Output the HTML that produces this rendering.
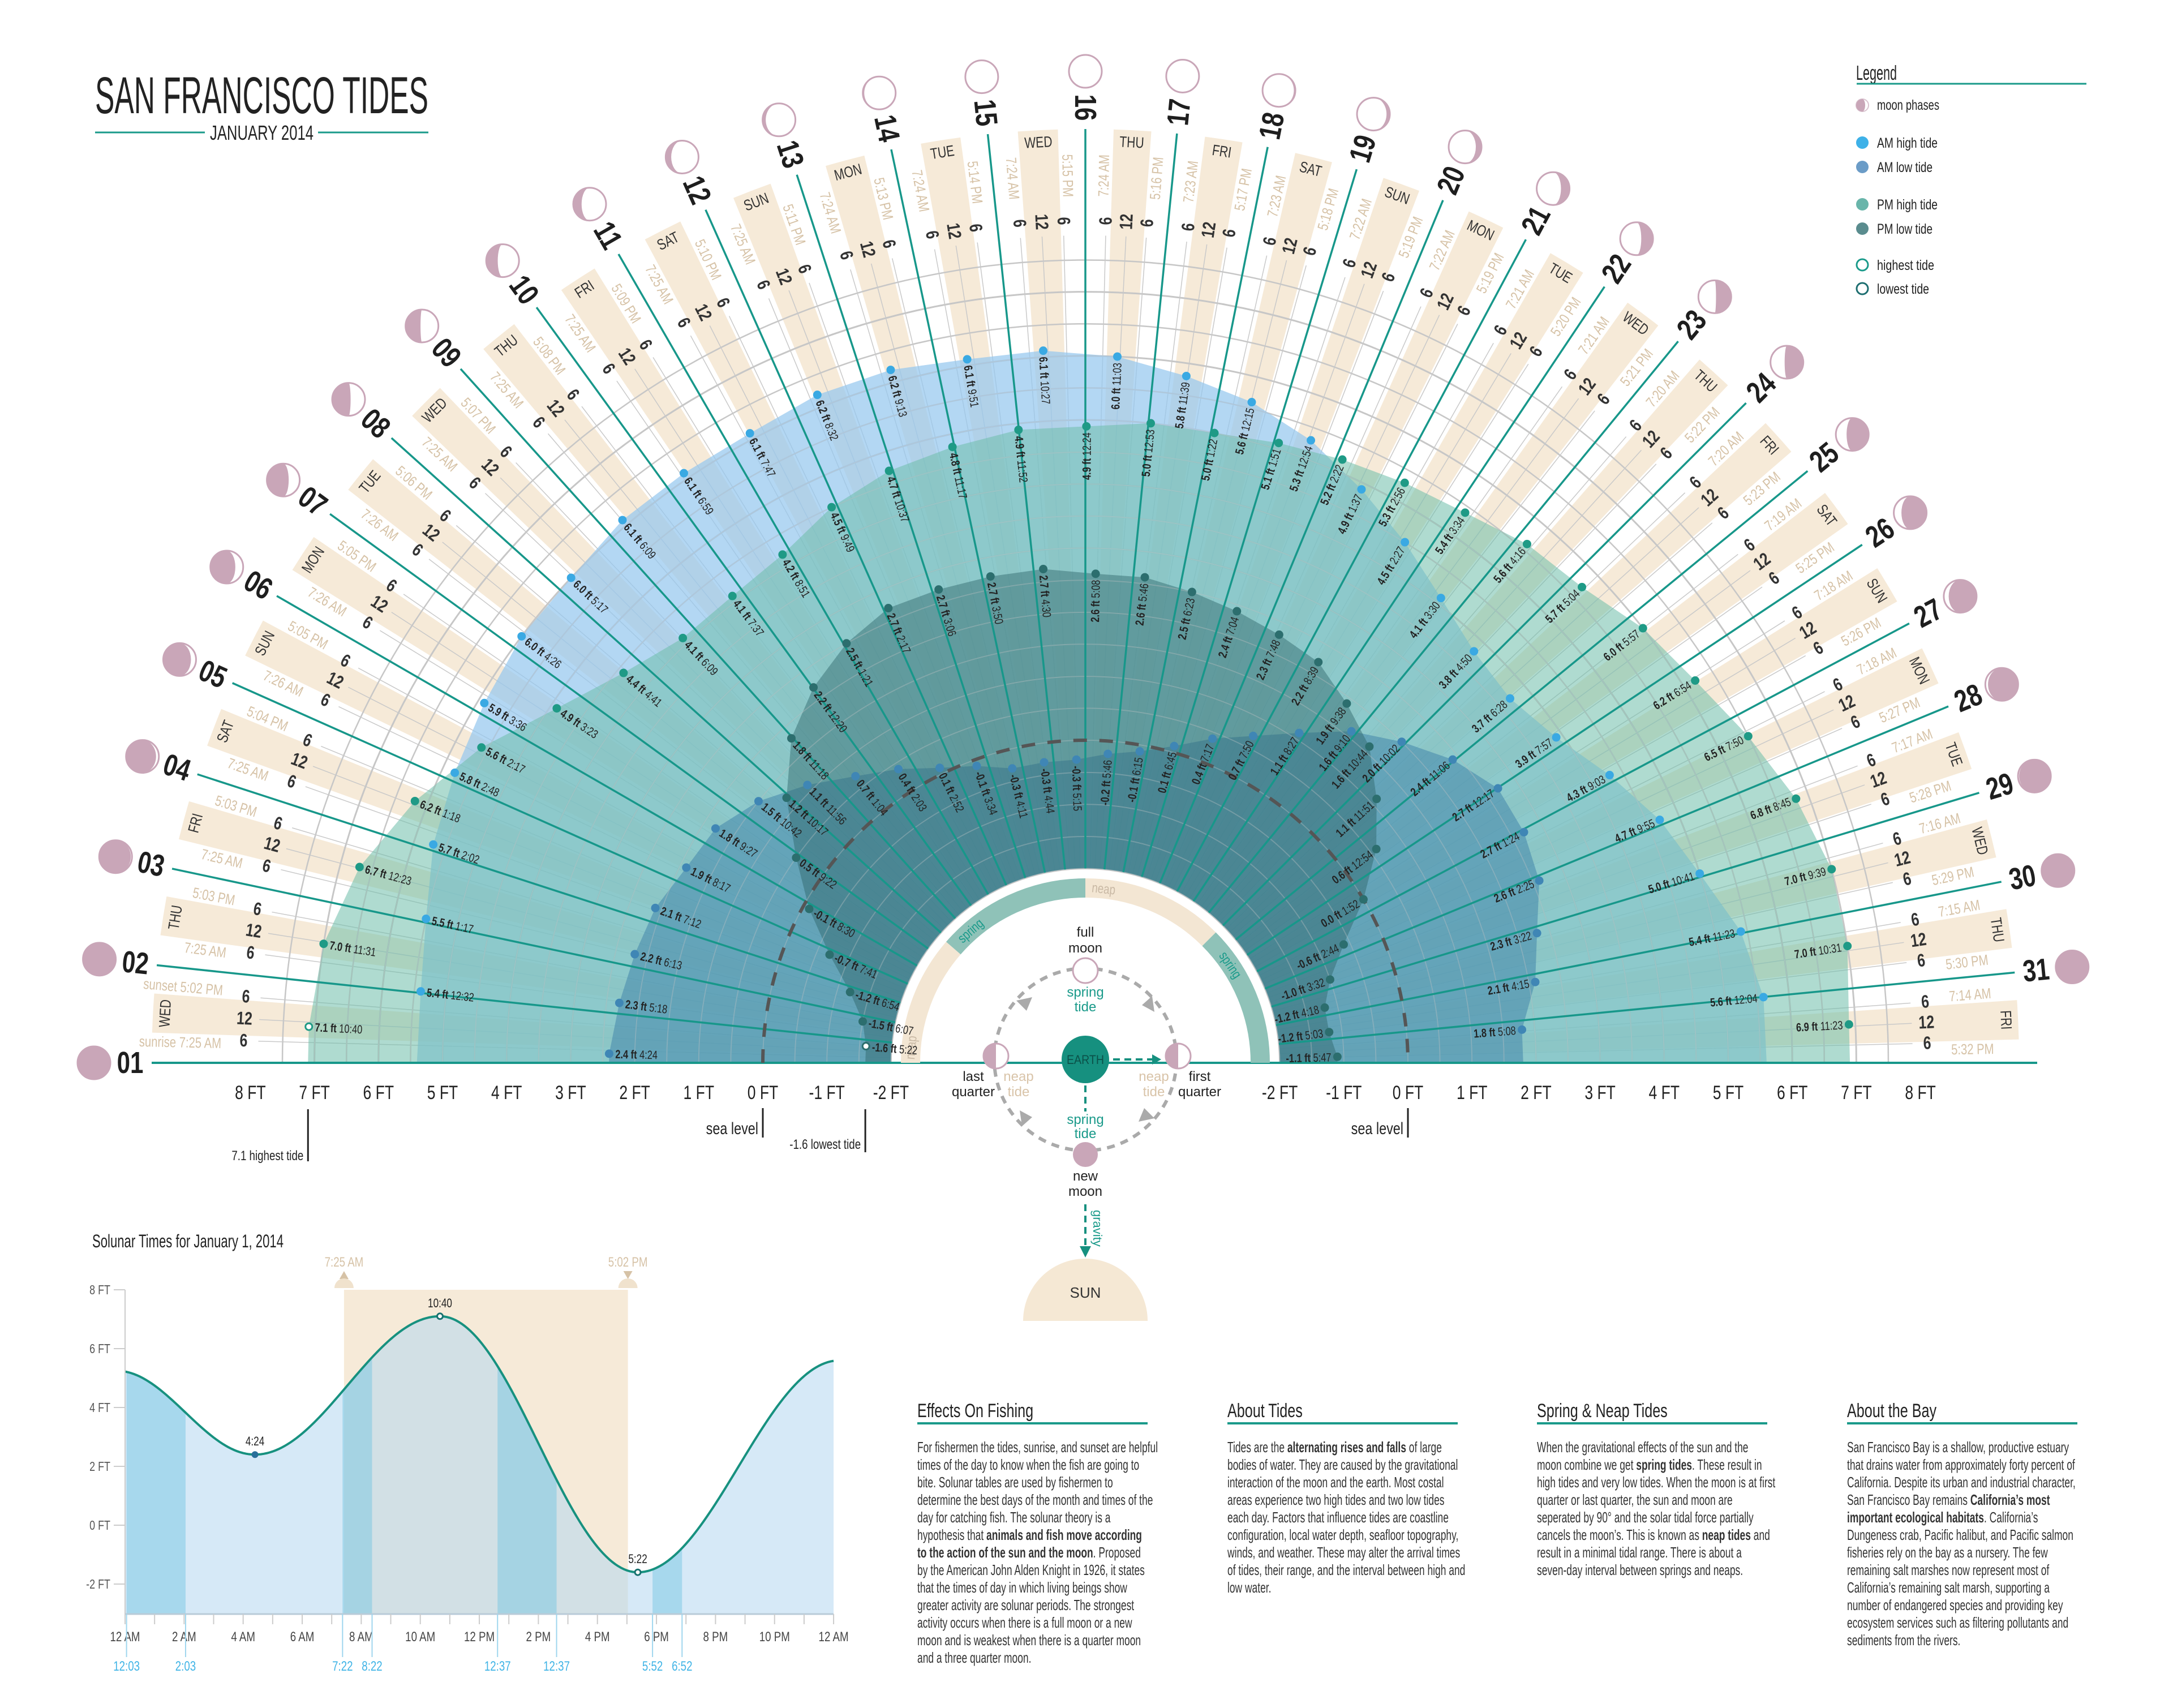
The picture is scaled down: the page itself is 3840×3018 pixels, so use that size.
<!DOCTYPE html>
<html><head><meta charset="utf-8">
<style>
html,body{margin:0;padding:0;background:#fff;width:3840px;height:3018px;overflow:hidden;position:relative}
svg text{font-family:"Liberation Sans Narrow","Liberation Sans",sans-serif}
.col{position:absolute;width:420px;font-family:"Liberation Sans Narrow","Liberation Sans",sans-serif;color:#222}
.col h3{margin:0;font-weight:normal;font-size:34px;line-height:40px;height:40px;border-bottom:4px solid #1a9a8a;width:407px;white-space:nowrap;transform-origin:left;}
.col h3 span{display:inline-block;transform:scaleX(.74);transform-origin:left}
.col .body{margin-top:25px;font-size:26px;line-height:31px;white-space:nowrap;transform:scaleX(.67);transform-origin:left top;color:#333}
</style></head><body>
<svg id="s" width="3840" height="3018" viewBox="0 0 3840 3018" xmlns="http://www.w3.org/2000/svg">
 <g>
  <text x="168" y="200" font-size="92" fill="#222" textLength="589" lengthAdjust="spacingAndGlyphs">SAN FRANCISCO TIDES</text>
  <line x1="168" y1="234" x2="362" y2="234" stroke="#1a9a8a" stroke-width="3"/>
  <line x1="562" y1="234" x2="757" y2="234" stroke="#1a9a8a" stroke-width="3"/>
  <text x="371" y="247" font-size="36" fill="#222" textLength="183" lengthAdjust="spacingAndGlyphs">JANUARY 2014</text>
 </g>
 <g>
  <text x="3280" y="141" font-size="36" fill="#222" textLength="72" lengthAdjust="spacingAndGlyphs">Legend</text>
  <line x1="3281" y1="148" x2="3687" y2="148" stroke="#1a9a8a" stroke-width="3"/>
  <g><circle cx="3291" cy="186" r="11" fill="#fff" stroke="#d9c3cf" stroke-width="2"/><path d="M3291 175 A11 11 0 0 0 3291 197 A5 11 0 0 0 3291 175Z" fill="#c9a6b8"/><text x="3317" y="194" font-size="25" fill="#222" textLength="110" lengthAdjust="spacingAndGlyphs">moon phases</text></g>
  <g><circle cx="3291" cy="252" r="11" fill="#3eb1e8"/><text x="3317" y="261" font-size="25" fill="#222" textLength="107" lengthAdjust="spacingAndGlyphs">AM high tide</text></g>
  <g><circle cx="3291" cy="295" r="11" fill="#6b9cc7"/><text x="3317" y="304" font-size="25" fill="#222" textLength="98" lengthAdjust="spacingAndGlyphs">AM low tide</text></g>
  <g><circle cx="3291" cy="361" r="11" fill="#69b5aa"/><text x="3317" y="370" font-size="25" fill="#222" textLength="107" lengthAdjust="spacingAndGlyphs">PM high tide</text></g>
  <g><circle cx="3291" cy="404" r="11" fill="#5a8c8e"/><text x="3317" y="413" font-size="25" fill="#222" textLength="98" lengthAdjust="spacingAndGlyphs">PM low tide</text></g>
  <g><circle cx="3291" cy="468" r="10" fill="#fff" stroke="#1a9a8a" stroke-width="3"/><text x="3317" y="477" font-size="25" fill="#222" textLength="101" lengthAdjust="spacingAndGlyphs">highest tide</text></g>
  <g><circle cx="3291" cy="510" r="10" fill="#fff" stroke="#1d6e70" stroke-width="3"/><text x="3317" y="519" font-size="25" fill="#222" textLength="92" lengthAdjust="spacingAndGlyphs">lowest tide</text></g>
 </g>
 <g id="radial"></g>
 <g id="orbit">
  <circle cx="1918" cy="1872" r="161" fill="none" stroke="#aaa" stroke-width="6" stroke-dasharray="14 11"/>
  <g fill="#aaa">
   <path d="M1796 1768 l28 -6 l-10 24z"/><path d="M2036 1760 l4 28 l-22 -12z"/><path d="M1806 1990 l-4 -28 l22 12z"/><path d="M2040 1976 l-28 6 l10 -24z"/>
  </g>
  <circle cx="1918" cy="1872" r="42" fill="#16907f"/>
  <text x="1918" y="1880" font-size="22" fill="#0b5048" text-anchor="middle" textLength="66" lengthAdjust="spacingAndGlyphs">EARTH</text>
  <line x1="1967" y1="1872" x2="2040" y2="1872" stroke="#16907f" stroke-width="4" stroke-dasharray="12 8"/>
  <path d="M2052 1872 l-16 -9 l0 18z" fill="#16907f"/>
  <line x1="1918" y1="1918" x2="1918" y2="1964" stroke="#16907f" stroke-width="4" stroke-dasharray="12 8"/>
  <circle cx="1918" cy="1715" r="22" fill="#fff" stroke="#c9a6b8" stroke-width="3"/>
  <circle cx="1918" cy="2040" r="22" fill="#c9a6b8"/>
  <g><circle cx="1760" cy="1866" r="22" fill="#fff" stroke="#c9a6b8" stroke-width="3"/><path d="M1760 1844 A22 22 0 0 0 1760 1888Z" fill="#c9a6b8"/></g>
  <g><circle cx="2082" cy="1866" r="22" fill="#fff" stroke="#c9a6b8" stroke-width="3"/><path d="M2082 1844 A22 22 0 0 0 2082 1888Z" fill="#c9a6b8"/></g>
  <g font-size="24" text-anchor="middle">
   <text x="1918" y="1655" fill="#222">full</text><text x="1918" y="1683" fill="#222">moon</text>
   <text x="1918" y="1761" fill="#1a9a8a">spring</text><text x="1918" y="1787" fill="#1a9a8a">tide</text>
   <text x="1720" y="1910" fill="#222">last</text><text x="1720" y="1937" fill="#222">quarter</text>
   <text x="1800" y="1910" fill="#d9c4a9">neap</text><text x="1800" y="1937" fill="#d9c4a9">tide</text>
   <text x="2039" y="1910" fill="#d9c4a9">neap</text><text x="2039" y="1937" fill="#d9c4a9">tide</text>
   <text x="2120" y="1910" fill="#222">first</text><text x="2120" y="1937" fill="#222">quarter</text>
   <text x="1918" y="1986" fill="#1a9a8a">spring</text><text x="1918" y="2011" fill="#1a9a8a">tide</text>
   <text x="1918" y="2086" fill="#222">new</text><text x="1918" y="2113" fill="#222">moon</text>
  </g>
  <line x1="1918" y1="2128" x2="1918" y2="2205" stroke="#16907f" stroke-width="4" stroke-dasharray="12 8"/>
  <path d="M1918 2222 l-10 -20 l20 0z" fill="#16907f"/>
  <text x="0" y="0" font-size="22" fill="#1a9a8a" transform="translate(1932 2138) rotate(90)">gravity</text>
  <path d="M1808 2334 A110 110 0 0 1 2028 2334Z" fill="#f5e8d4"/>
  <text x="1918" y="2293" font-size="26" fill="#333" text-anchor="middle">SUN</text>
 </g>
 <g id="solunar"></g>
</svg>

<div class="col" style="left:1621px;top:2473px">
<h3><span>Effects On Fishing</span></h3>
<div class="body">For fishermen the tides, sunrise, and sunset are helpful<br>times of the day to know when the fish are going to<br>bite. Solunar tables are used by fishermen to<br>determine the best days of the month and times of the<br>day for catching fish. The solunar theory is a<br>hypothesis that <b>animals and fish move according</b><br><b>to the action of the sun and the moon</b>. Proposed<br>by the American John Alden Knight in 1926, it states<br>that the times of day in which living beings show<br>greater activity are solunar periods. The strongest<br>activity occurs when there is a full moon or a new<br>moon and is weakest when there is a quarter moon<br>and a three quarter moon.</div></div>
<div class="col" style="left:2169px;top:2473px">
<h3><span>About Tides</span></h3>
<div class="body">Tides are the <b>alternating rises and falls</b> of large<br>bodies of water. They are caused by the gravitational<br>interaction of the moon and the earth. Most costal<br>areas experience two high tides and two low tides<br>each day. Factors that influence tides are coastline<br>configuration, local water depth, seafloor topography,<br>winds, and weather. These may alter the arrival times<br>of tides, their range, and the interval between high and<br>low water.</div></div>
<div class="col" style="left:2716px;top:2473px">
<h3><span>Spring &amp; Neap Tides</span></h3>
<div class="body">When the gravitational effects of the sun and the<br>moon combine we get <b>spring tides</b>. These result in<br>high tides and very low tides. When the moon is at first<br>quarter or last quarter, the sun and moon are<br>seperated by 90° and the solar tidal force partially<br>cancels the moon’s. This is known as <b>neap tides</b> and<br>result in a minimal tidal range. There is about a<br>seven-day interval between springs and neaps.</div></div>
<div class="col" style="left:3264px;top:2473px">
<h3><span>About the Bay</span></h3>
<div class="body">San Francisco Bay is a shallow, productive estuary<br>that drains water from approximately forty percent of<br>California. Despite its urban and industrial character,<br>San Francisco Bay remains <b>California’s most</b><br><b>important ecological habitats</b>. California’s<br>Dungeness crab, Pacific halibut, and Pacific salmon<br>fisheries rely on the bay as a nursery. The few<br>remaining salt marshes now represent most of<br>California’s remaining salt marsh, supporting a<br>number of endangered species and providing key<br>ecosystem services such as filtering pollutants and<br>sediments from the rivers.</div></div>

<script>
// ---------- radial chart data ----------
const dayNumbers = [1,2,3,4,5,6,7,8,9,10,11,12,13,14,15,16,17,18,19,20,21,22,23,24,25,26,27,28,29,30,31];
const weekdayLabels = ["WED","THU","FRI","SAT","SUN","MON","TUE","WED","THU","FRI","SAT","SUN","MON","TUE","WED","THU","FRI","SAT","SUN","MON","TUE","WED","THU","FRI","SAT","SUN","MON","TUE","WED","THU","FRI"];
const sunriseTimes = ["7:25","7:25","7:25","7:25","7:26","7:26","7:26","7:25","7:25","7:25","7:25","7:25","7:24","7:24","7:24","7:24","7:23","7:23","7:22","7:22","7:21","7:21","7:20","7:20","7:19","7:18","7:18","7:17","7:16","7:15","7:14"];
const sunsetTimes = ["5:02","5:03","5:03","5:04","5:05","5:05","5:06","5:07","5:08","5:09","5:10","5:11","5:13","5:14","5:15","5:16","5:17","5:18","5:19","5:19","5:20","5:21","5:22","5:23","5:25","5:26","5:27","5:28","5:29","5:30","5:32"];

const amHighDay  = [2,3,4,5,6,7,8,9,10,11,12,13,14,15,16,17,18,19,20,21,22,23,24,25,26,27,28,29,31];
const amHighTime = ["12:32a","1:17a","2:02a","2:48a","3:36a","4:26a","5:17a","6:09a","6:59a","7:47a","8:32a","9:13a","9:51a","10:27a","11:03a","11:39a","12:15p","12:54p","1:37p","2:27p","3:30p","4:50p","6:28p","7:57p","9:03p","9:55p","10:41p","11:23p","12:04a"];
const amHighFt   = [5.4,5.5,5.7,5.8,5.9,6.0,6.0,6.1,6.1,6.1,6.2,6.2,6.1,6.1,6.0,5.8,5.6,5.3,4.9,4.5,4.1,3.8,3.7,3.9,4.3,4.7,5.0,5.4,5.6];

const pmHighDay  = [1,2,3,4,5,6,7,8,9,10,11,12,13,14,16,17,18,19,20,21,22,23,24,25,26,27,28,29,30,31];
const pmHighTime = ["10:40a","11:31a","12:23p","1:18p","2:17p","3:23p","4:41p","6:09p","7:37p","8:51p","9:49p","10:37p","11:17p","11:52p","12:24a","12:53a","1:22a","1:51a","2:22a","2:56a","3:34a","4:16a","5:04a","5:57a","6:54a","7:50a","8:45a","9:39a","10:31a","11:23a"];
const pmHighFt   = [7.1,7.0,6.7,6.2,5.6,4.9,4.4,4.1,4.1,4.2,4.5,4.7,4.8,4.9,4.9,5.0,5.0,5.1,5.2,5.3,5.4,5.6,5.7,6.0,6.2,6.5,6.8,7.0,7.0,6.9];

const amLowDay  = [1,2,3,4,5,6,7,8,9,10,11,12,13,14,15,16,17,18,19,20,21,22,23,24,26,27,28,29,30,31];
const amLowTime = ["4:24a","5:18a","6:13a","7:12a","8:17a","9:27a","10:42a","11:56a","1:04p","2:03p","2:52p","3:34p","4:11p","4:44p","5:15p","5:46p","6:15p","6:45p","7:17p","7:50p","8:27p","9:10p","10:02p","11:06p","12:17a","1:24a","2:25a","3:22a","4:15a","5:08a"];
const amLowFt   = [2.4,2.3,2.2,2.1,1.9,1.8,1.5,1.1,0.7,0.4,0.1,-0.1,-0.3,-0.3,-0.3,-0.2,-0.1,0.1,0.4,0.7,1.1,1.6,2.0,2.4,2.7,2.7,2.6,2.3,2.1,1.8];

const pmLowDay  = [1,2,3,4,5,6,7,8,10,11,12,13,14,15,16,17,18,19,20,21,22,23,24,25,26,27,28,29,30,31];
const pmLowTime = ["5:22p","6:07p","6:54p","7:41p","8:30p","9:22p","10:17p","11:18p","12:20a","1:21a","2:17a","3:06a","3:50a","4:30a","5:08a","5:46a","6:23a","7:04a","7:48a","8:39a","9:38a","10:44a","11:51a","12:54p","1:52p","2:44p","3:32p","4:18p","5:03p","5:47p"];
const pmLowFt   = [-1.6,-1.5,-1.2,-0.7,-0.1,0.5,1.2,1.8,2.2,2.5,2.7,2.7,2.7,2.7,2.6,2.6,2.5,2.4,2.3,2.2,1.9,1.6,1.1,0.6,0.0,-0.6,-1.0,-1.2,-1.2,-1.1];

const axisTicksFt = [8,7,6,5,4,3,2,1,0,-1,-2];

// ---------- solunar chart data ----------
const tideExtremeHours = [-0.3, 4.4, 10.667, 17.367, 24.2];
const tideExtremeFt    = [5.25, 2.4, 7.1, -1.6, 5.6];
const extremeLabels    = ["", "4:24", "10:40", "5:22", ""];
const solunarStart     = [0.05, 7.367, 12.617, 17.867];
const solunarEnd       = [2.05, 8.367, 14.617, 18.867];
const solunarStartLbl  = ["12:03","7:22","12:37","5:52"];
const solunarEndLbl    = ["2:03","8:22","12:37","6:52"];
const solunarYTicks    = [8,6,4,2,0,-2];
const solunarYLabels   = ["8 FT","6 FT","4 FT","2 FT","0 FT","-2 FT"];
const solunarXLabels   = ["12 AM","2 AM","4 AM","6 AM","8 AM","10 AM","12 PM","2 PM","4 PM","6 PM","8 PM","10 PM","12 AM"];
const sunriseHour = 7 + 25/60, sunsetHour = 17 + 2/60;

// ---------- helpers ----------
const NS = "http://www.w3.org/2000/svg";
const SQ = " scale(0.78 1)";
function el(tag, parent){ const e = document.createElementNS(NS, tag); parent.appendChild(e); return e; }
function set(e, o){ for (const k in o) e.setAttribute(k, o[k]); return e; }
const CX = 1918, CY = 1878;
function R(ft){ return 570 + 113.2 * ft; }
function dayStart(d){ return d <= 16 ? 180 - 6 * (d - 1) : 90 - (d - 16) * 5.63; }
function dayW(d){ return d < 16 ? 6 : 5.63; }
function ang(d, h){ return dayStart(d) - h / 24 * dayW(d); }
function P(r, a){ const t = a * Math.PI / 180; return [CX + r * Math.cos(t), CY - r * Math.sin(t)]; }
function parseT(s){ const m = s.match(/(\d+):(\d+)([ap])?/); let h = (+m[1]) % 12; if (m[3] === 'p') h += 12; return h + (+m[2]) / 60; }
function rot(a){ return a >= 90 ? 180 - a : -a; }
function sector(r1, r2, a1, a2){
  const p1 = P(r2, a1), p2 = P(r2, a2), p3 = P(r1, a2), p4 = P(r1, a1);
  return `M${p1} A${r2} ${r2} 0 0 1 ${p2} L${p3} A${r1} ${r1} 0 0 0 ${p4}Z`;
}
function arc(r, a1, a2){ const p1 = P(r, a1), p2 = P(r, a2); const large = (a1 - a2) > 180 ? 1 : 0; return `M${p1} A${r} ${r} 0 ${large} 1 ${p2}`; }

const G = document.getElementById('radial');
const R0 = R(-2), ROUT = 1650;

// daylight bars
const barsG = el('g', G);


dayNumbers.forEach((d, i) => {
  const a1 = ang(d, parseT(sunriseTimes[i])), a2 = ang(d, parseT(sunsetTimes[i]) + 12);
  const b = set(el('path', barsG), {d: sector(R0, ROUT, a1, a2), fill: '#f6ead8'});
  
  
});

// grid arcs every half foot
const gridG = el('g', G);


for (let f = -2; f <= 7.5; f += 0.5) {
  const c = set(el('path', gridG), {d: arc(R(f), 180, 0), fill: 'none', stroke: '#c6c6c6', 'stroke-width': Number.isInteger(f) ? 3 : 2.5});
  
  
}
dayNumbers.forEach((d) => {
  [6, 12, 18].forEach(h => {
    const a = ang(d, h), p1 = P(R0, a), p2 = P(1462, a);
    const t = set(el('line', gridG), {x1: p1[0], y1: p1[1], x2: p2[0], y2: p2[1], stroke: '#c9c9c9', 'stroke-width': 1.5});
    
    
  });
});

// tide layers
function seriesPts(days, times, fts){
  const pts = days.map((d, i) => ({a: ang(d, parseT(times[i])), r: R(fts[i]), ft: fts[i], t: times[i], d: d}));
  pts.sort((p, q) => q.a - p.a);
  return pts;
}
function layer(pts, fill, name){
  let pp = [P(pts[0].r, 180)];
  pts.forEach(p => pp.push(P(p.r, p.a)));
  pp.push(P(pts[pts.length - 1].r, 0));
  for (let a = 0; a <= 180; a += 2) pp.push(P(R0, a));
  const e = set(el('polygon', G), {points: pp.map(p => p.join(',')).join(' '), fill: fill});
  
  
}
const S1 = seriesPts(amHighDay, amHighTime, amHighFt);
const S2 = seriesPts(pmHighDay, pmHighTime, pmHighFt);
const S3 = seriesPts(amLowDay, amLowTime, amLowFt);
const S4 = seriesPts(pmLowDay, pmLowTime, pmLowFt);
layer(S1, 'rgba(150,200,238,0.72)', 'am-high-area');
layer(S2, 'rgba(110,190,170,0.55)', 'pm-high-area');
layer(S3, 'rgba(50,120,165,0.45)', 'am-low-area');
layer(S4, 'rgba(45,100,105,0.45)', 'pm-low-area');

for (let f = -2; f <= 7.5; f += 0.5) {
  const c = set(el('path', G), {d: arc(R(f), 180, 0), fill: 'none', stroke: 'rgba(200,200,200,0.35)', 'stroke-width': 2});
  
  
}

// spokes
dayNumbers.forEach(d => {
  if (d === 1) return;
  const a = dayStart(d), p1 = P(R0, a), p2 = P(ROUT, a);
  const s = set(el('line', G), {x1: p1[0], y1: p1[1], x2: p2[0], y2: p2[1], stroke: '#17978a', 'stroke-width': 3.5});
  
  
});
const axisLine = set(el('line', G), {x1: 268, y1: CY, x2: 3600, y2: CY, stroke: '#17978a', 'stroke-width': 4});



const sea = set(el('path', G), {d: arc(R(0), 180, 0), fill: 'none', stroke: '#555', 'stroke-width': 6, 'stroke-dasharray': '24 22'});



const bandSegs = [[180, 139, '#f3e6d3'], [139, 90, '#8fc2b8'], [90, 45, '#f3e6d3'], [45, 0, '#8fc2b8']];
bandSegs.forEach(s => {
  const b = set(el('path', G), {d: arc(309, s[0], s[1]), fill: 'none', stroke: s[2], 'stroke-width': 34});
  
  
});
[[175, 'neap', '#c9b9a5'], [131, 'spring', '#1a9a8a'], [84, 'neap', '#c9b9a5'], [34, 'spring', '#1a9a8a']].forEach(s => {
  const p = P(309, s[0]);
  const t = set(el('text', G), {x: 0, y: 0, 'font-size': 24, fill: s[2], 'text-anchor': 'middle', 'dominant-baseline': 'central', transform: `translate(${p[0]} ${p[1]}) rotate(${90 - s[0]})` + SQ});
  t.textContent = s[1];
  
  
});

// dots + labels
function dots(pts, color, name){
  pts.forEach(p => {
    const pos = P(p.r, p.a);
    const special = (p.ft === 7.1 || p.ft === -1.6);
    const c = set(el('circle', G), {cx: pos[0], cy: pos[1], r: special ? 6 : 7.5, fill: special ? '#fff' : color, stroke: special ? color : 'none', 'stroke-width': 3});
    
    
    const left = p.a >= 90;
    const t = set(el('text', G), {x: left ? 14 : -14, y: 0, 'font-size': 21, fill: '#222', 'text-anchor': left ? 'start' : 'end', 'dominant-baseline': 'central', transform: `translate(${pos[0]} ${pos[1]}) rotate(${rot(p.a)})` + SQ});
    
    
    const b = el('tspan', t); b.setAttribute('font-weight', 'bold'); b.textContent = p.ft.toFixed(1) + ' ft ';
    const tt = el('tspan', t); tt.textContent = p.t.replace(/[ap]$/, '');
  });
}
dots(S1, '#3aa9e3', 'am-high');
dots(S2, '#1f9a86', 'pm-high');
dots(S3, '#3f86b5', 'am-low');
dots(S4, '#2c6e6e', 'pm-low');

// outer ring labels
function moonPath(cx, cy, r, f){
  const k = Math.abs(Math.cos(2 * Math.PI * f)) * r;
  if (f < 0.5) { const sw = f < 0.25 ? 0 : 1; return `M${cx} ${cy - r} A${r} ${r} 0 0 1 ${cx} ${cy + r} A${k} ${r} 0 0 ${sw} ${cx} ${cy - r}Z`; }
  const sw = f > 0.75 ? 1 : 0; return `M${cx} ${cy - r} A${r} ${r} 0 0 0 ${cx} ${cy + r} A${k} ${r} 0 0 ${sw} ${cx} ${cy - r}Z`;
}
dayNumbers.forEach((d, i) => {
  const a0 = dayStart(d);
  const mp = P(1752, a0);
  const f = ((d - 1.2) / 29.53) % 1;
  const mg = el('g', G);
  
  
  set(el('circle', mg), {cx: mp[0], cy: mp[1], r: 29, fill: '#c9a6b8'});
  set(el('path', mg), {d: moonPath(mp[0], mp[1], 29, f), fill: '#fff'});
  set(el('circle', mg), {cx: mp[0], cy: mp[1], r: 29, fill: 'none', stroke: '#c9a6b8', 'stroke-width': 3});
  const np = P(1688, a0);
  const n = set(el('text', G), {x: 0, y: 0, 'font-size': 54, 'font-weight': 'bold', fill: '#1e1e1e', 'text-anchor': 'middle', 'dominant-baseline': 'central', transform: `translate(${np[0]} ${np[1]}) rotate(${rot(a0)})` + SQ});
  n.textContent = String(d).padStart(2, '0');
  
  
  const aw = ang(d, 12.3), wp = P(1628, aw);
  const w = set(el('text', G), {x: 0, y: 0, 'font-size': 27, fill: '#333', 'text-anchor': 'middle', 'dominant-baseline': 'central', transform: `translate(${wp[0]} ${wp[1]}) rotate(${90 - aw})` + SQ});
  w.textContent = weekdayLabels[i];
  
  
  [[6, '6'], [12, '12'], [18, '6']].forEach(h => {
    const ah = ang(d, h[0]), hp = P(1488, ah);
    const ht = set(el('text', G), {x: 0, y: 0, 'font-size': 32, 'font-weight': 'bold', fill: '#333', 'text-anchor': 'middle', 'dominant-baseline': 'central', transform: `translate(${hp[0]} ${hp[1]}) rotate(${rot(ah)})` + SQ});
    ht.textContent = h[1];
    
    
  });
  const ar = ang(d, parseT(sunriseTimes[i])) + 0.55, rp = P(d === 1 ? 1600 : 1568, ar);
  const st = set(el('text', G), {x: 0, y: 0, 'font-size': 26, fill: '#d6c2a6', 'text-anchor': 'middle', 'dominant-baseline': 'central', transform: `translate(${rp[0]} ${rp[1]}) rotate(${rot(ar)})` + SQ});
  st.textContent = (d === 1 ? 'sunrise ' : '') + sunriseTimes[i] + ' AM';
  
  
  const as = ang(d, parseT(sunsetTimes[i]) + 12) - 0.55, sp = P(d === 1 ? 1600 : 1568, as);
  const ss = set(el('text', G), {x: 0, y: 0, 'font-size': 26, fill: '#d6c2a6', 'text-anchor': 'middle', 'dominant-baseline': 'central', transform: `translate(${sp[0]} ${sp[1]}) rotate(${rot(as)})` + SQ});
  ss.textContent = (d === 1 ? 'sunset ' : '') + sunsetTimes[i] + ' PM';
  
  
});

axisTicksFt.forEach(ft => {
  [-1, 1].forEach(side => {
    const t = set(el('text', G), {x: 0, y: 0, 'font-size': 34, fill: '#222', 'text-anchor': 'middle', transform: `translate(${CX + side * R(ft)} 1942)` + SQ});
    t.textContent = ft + ' FT';
    
    
  });
});
function marker(x, y1, y2, label, tx, ty, name){
  const l = set(el('line', G), {x1: x, y1: y1, x2: x, y2: y2, stroke: '#222', 'stroke-width': 3});
  
  
  const t = set(el('text', G), {x: 0, y: 0, 'font-size': label.size, fill: '#222', 'text-anchor': 'end', transform: `translate(${tx} ${ty})` + SQ});
  t.textContent = label.text;
  
  
}
marker(CX - R(0), 1958, 2010, {text: 'sea level', size: 30}, CX - R(0) - 8, 2004, 'sea-level-left');
marker(CX + R(0), 1958, 2010, {text: 'sea level', size: 30}, CX + R(0) - 8, 2004, 'sea-level-right');
marker(CX - R(7.1), 1960, 2052, {text: '7.1 highest tide', size: 24}, CX - R(7.1) - 8, 2050, 'highest-tide');
marker(CX - R(-1.6), 1960, 2036, {text: '-1.6 lowest tide', size: 24}, CX - R(-1.6) - 8, 2030, 'lowest-tide');

// ---------- solunar chart ----------
const SG = document.getElementById('solunar');
const X0 = 221, PXH = 52.17, YB = 2852;
function sx(h){ return X0 + h * PXH; }
function sy(ft){ return 2695 - 52 * ft; }
function tideAt(h){
  for (let i = 0; i < tideExtremeHours.length - 1; i++) {
    if (h >= tideExtremeHours[i] && h <= tideExtremeHours[i + 1]) {
      const u = (h - tideExtremeHours[i]) / (tideExtremeHours[i + 1] - tideExtremeHours[i]);
      return tideExtremeFt[i] + (tideExtremeFt[i + 1] - tideExtremeFt[i]) * (1 - Math.cos(Math.PI * u)) / 2;
    }
  }
  return tideExtremeFt[0];
}
const ttl = set(el('text', SG), {x: 163, y: 2204, 'font-size': 32, fill: '#222', textLength: 338, lengthAdjust: 'spacingAndGlyphs'});
ttl.textContent = 'Solunar Times for January 1, 2014';


const sunBox = set(el('rect', SG), {x: sx(sunriseHour), y: sy(8), width: sx(sunsetHour) - sx(sunriseHour), height: YB - sy(8), fill: '#f6ead8'});


[[sunriseHour, '7:25 AM', 'M-8 8 L8 8 L0 -6Z'], [sunsetHour, '5:02 PM', 'M-8 -6 L8 -6 L0 8Z']].forEach(s => {
  const x = sx(s[0]);
  const t = set(el('text', SG), {x: 0, y: 0, 'font-size': 24, fill: '#d6c2a6', 'text-anchor': 'middle', transform: `translate(${x} 2238)` + SQ});
  t.textContent = s[1];
  
  
  set(el('path', SG), {d: s[2], fill: '#d6c2a6', transform: `translate(${x} 2252)`});
  set(el('path', SG), {d: `M${x - 17} 2276 A17 17 0 0 1 ${x + 17} 2276Z`, fill: '#f0e2cd'});
});
let pts = [];
for (let h = 0; h <= 24.001; h += 0.1) pts.push([sx(h), sy(tideAt(h))]);
const areaD = 'M' + sx(0) + ' ' + YB + ' L' + pts.map(p => p.join(' ')).join(' L') + ' L' + sx(24) + ' ' + YB + 'Z';
const cp = set(el('clipPath', SG), {id: 'areaClip'});
set(el('path', cp), {d: areaD});
const area = set(el('path', SG), {d: areaD, fill: 'rgba(180,215,240,0.55)'});


const bandsG = set(el('g', SG), {'clip-path': 'url(#areaClip)'});
solunarStart.forEach((s, i) => {
  const b = set(el('rect', bandsG), {x: sx(s), y: 2250, width: sx(solunarEnd[i]) - sx(s), height: YB - 2250, fill: 'rgba(110,195,225,0.45)'});
  
  
});
const curve = set(el('path', SG), {d: 'M' + pts.map(p => p.join(' ')).join(' L'), fill: 'none', stroke: '#17917f', 'stroke-width': 4});


tideExtremeHours.forEach((h, i) => {
  if (!extremeLabels[i]) return;
  const x = sx(h), y = sy(tideExtremeFt[i]);
  const c = set(el('circle', SG), {cx: x, cy: y, r: i === 1 ? 6 : 5, fill: i === 1 ? '#2a6f9a' : '#fff', stroke: i === 1 ? 'none' : '#17716f', 'stroke-width': 3});
  
  
  const t = set(el('text', SG), {x: 0, y: 0, 'font-size': 22, fill: '#222', 'text-anchor': 'middle', transform: `translate(${x} ${y - 16})` + SQ});
  t.textContent = extremeLabels[i];
  
  
});
const yAx = set(el('line', SG), {x1: X0, y1: sy(8), x2: X0, y2: YB, stroke: '#ccc', 'stroke-width': 2});


const xAx = set(el('line', SG), {x1: X0, y1: YB, x2: sx(24), y2: YB, stroke: '#b9cbd8', 'stroke-width': 3});


solunarYTicks.forEach((v, i) => {
  set(el('line', SG), {x1: X0 - 20, y1: sy(v), x2: X0, y2: sy(v), stroke: '#ccc', 'stroke-width': 2});
  const t = set(el('text', SG), {x: 0, y: 0, 'font-size': 23, fill: '#555', 'text-anchor': 'end', transform: `translate(${X0 - 26} ${sy(v) + 8})` + SQ});
  t.textContent = solunarYLabels[i];
  
  
});
for (let h = 0; h <= 24; h++) set(el('line', SG), {x1: sx(h), y1: YB, x2: sx(h), y2: YB + 18, stroke: '#ccc', 'stroke-width': 2});
solunarXLabels.forEach((l, i) => {
  const t = set(el('text', SG), {x: 0, y: 0, 'font-size': 24, fill: '#444', 'text-anchor': 'middle', transform: `translate(${sx(i * 2)} 2900)` + SQ});
  t.textContent = l;
  
  
});
solunarStart.forEach((s, i) => {
  [[s, solunarStartLbl[i]], [solunarEnd[i], solunarEndLbl[i]]].forEach(q => {
    set(el('line', SG), {x1: sx(q[0]), y1: YB, x2: sx(q[0]), y2: 2928, stroke: '#9fd6ee', 'stroke-width': 2});
    const t = set(el('text', SG), {x: 0, y: 0, 'font-size': 24, fill: '#40b4e6', 'text-anchor': 'middle', transform: `translate(${sx(q[0])} 2952)` + SQ});
    t.textContent = q[1];
    
    
  });
});
</script>
</body></html>
